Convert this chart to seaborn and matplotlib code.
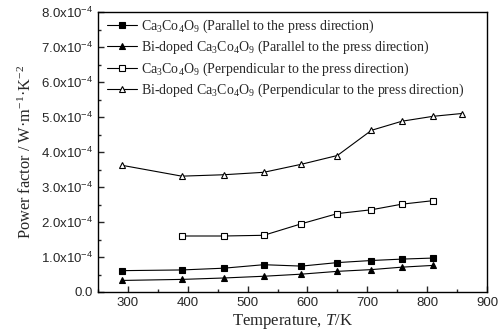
import matplotlib
matplotlib.use("Agg")
import matplotlib.pyplot as plt
import seaborn as sns
import pandas as pd
from matplotlib.ticker import MultipleLocator, FuncFormatter

temp_par = [290, 390, 460, 527, 590, 650, 707, 758, 810]
ca_par = [0.61e-4, 0.63e-4, 0.68e-4, 0.78e-4, 0.74e-4, 0.84e-4, 0.90e-4, 0.94e-4, 0.97e-4]
bi_par = [0.33e-4, 0.36e-4, 0.40e-4, 0.45e-4, 0.51e-4, 0.59e-4, 0.64e-4, 0.71e-4, 0.76e-4]
temp_ca_perp = [390, 460, 527, 590, 650, 707, 758, 810]
ca_perp = [1.60e-4, 1.60e-4, 1.62e-4, 1.95e-4, 2.24e-4, 2.35e-4, 2.51e-4, 2.61e-4]
temp_bi_perp = [290, 390, 460, 527, 590, 650, 707, 758, 810, 858]
bi_perp = [3.62e-4, 3.31e-4, 3.35e-4, 3.42e-4, 3.65e-4, 3.90e-4, 4.62e-4, 4.88e-4, 5.02e-4, 5.10e-4]

labels = [
    "Ca$_3$Co$_4$O$_9$ (Parallel to the press direction)",
    "Bi-doped Ca$_3$Co$_4$O$_9$ (Parallel to the press direction)",
    "Ca$_3$Co$_4$O$_9$ (Perpendicular to the press direction)",
    "Bi-doped Ca$_3$Co$_4$O$_9$ (Perpendicular to the press direction)",
]

sns.set_style("ticks")
plt.rcParams["font.family"] = ["Liberation Sans", "DejaVu Sans"]
plt.rcParams["mathtext.fontset"] = "custom"
plt.rcParams["mathtext.rm"] = "Liberation Serif"
plt.rcParams["mathtext.it"] = "Liberation Serif:italic"
plt.rcParams["mathtext.default"] = "regular"

fig = plt.figure(figsize=(5.01, 3.35), dpi=100)
ax = fig.add_axes([98 / 501, 43 / 335, 389 / 501, 280 / 335])

series = [
    (temp_par, ca_par, "s", "black"),
    (temp_par, bi_par, "^", "black"),
    (temp_ca_perp, ca_perp, "s", "white"),
    (temp_bi_perp, bi_perp, "^", "white"),
]
for (xs, ys, m, fc), lab in zip(series, labels):
    df = pd.DataFrame({"T": xs, "PF": ys})
    sns.lineplot(data=df, x="T", y="PF", ax=ax, color="black", lw=0.8,
                 marker=m, markersize=5, markerfacecolor=fc,
                 markeredgecolor="black", markeredgewidth=0.8, label=lab)

ax.set_xlim(250, 900)
ax.set_ylim(0, 8e-4)
ax.xaxis.set_major_locator(MultipleLocator(100))
ax.xaxis.set_minor_locator(MultipleLocator(50))
ax.yaxis.set_major_locator(MultipleLocator(1e-4))
ax.yaxis.set_minor_locator(MultipleLocator(0.5e-4))

def yfmt(v, pos):
    if abs(v) < 1e-12:
        return "0.0"
    return "%.1fx10$^{-4}$" % (v / 1e-4)

ax.yaxis.set_major_formatter(FuncFormatter(yfmt))
ax.tick_params(which="both", direction="in", top=False, right=False, labelsize=9.5, width=1.0)
ax.tick_params(which="major", length=4)
ax.tick_params(which="minor", length=2.5)
for s in ax.spines.values():
    s.set_linewidth(1.0)
    s.set_color("black")

serif = ["Liberation Serif", "DejaVu Serif"]
ax.set_xlabel("Temperature, $\\mathit{T}$/K", family=serif, fontsize=12, labelpad=2)
ax.set_ylabel("Power factor / W·m$^{-1}$·K$^{-2}$", family=serif, fontsize=11.8, labelpad=4)

leg = ax.legend(loc="upper left", frameon=False, prop={"family": serif, "size": 10},
                handlelength=2.2, borderaxespad=0.0, labelspacing=0.3, handletextpad=0.3,
                bbox_to_anchor=(0.008, 1.0))

fig.savefig("out.png", dpi=100)
